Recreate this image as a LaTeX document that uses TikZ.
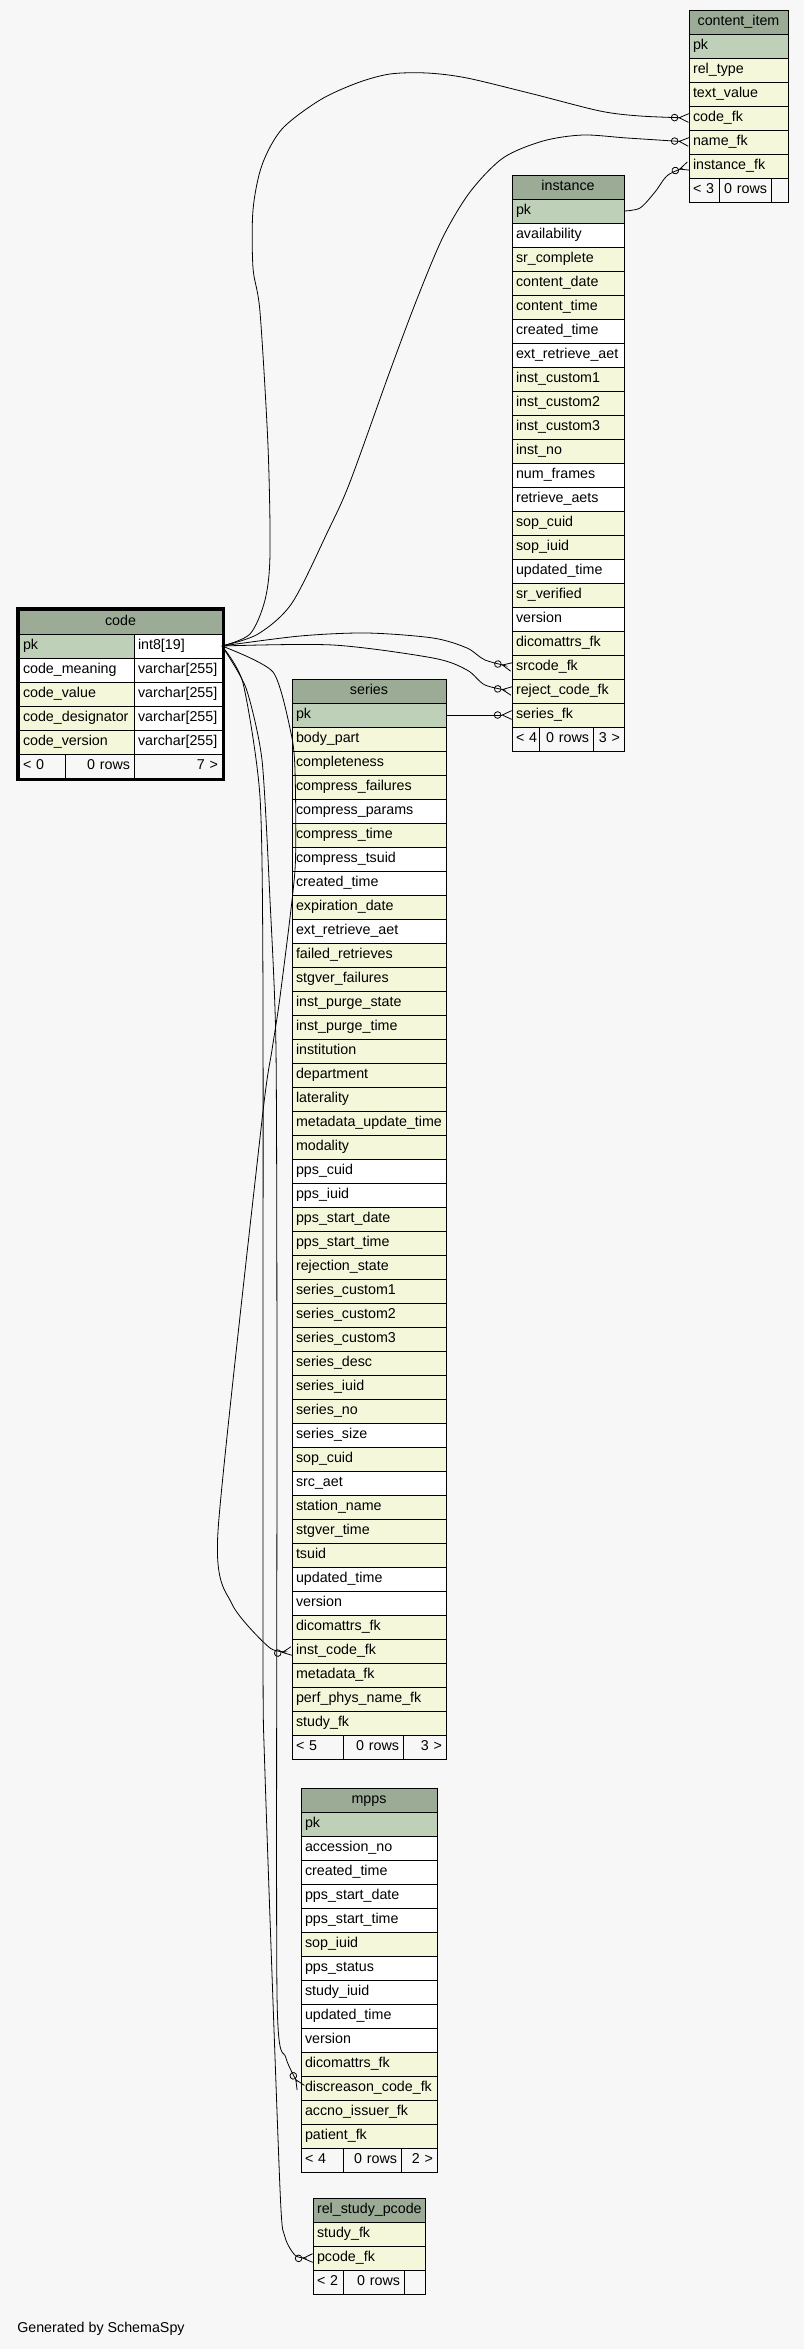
\documentclass[tikz,border=0pt]{standalone}
\usepackage{fontspec}
\setmainfont{Liberation Sans}
\usepackage{tikz}
\usetikzlibrary{arrows.meta}
\usepackage{xcolor}
\definecolor{bgcol}{HTML}{F7F7F7}
\definecolor{headcol}{HTML}{9BAB96}
\definecolor{pkc}{HTML}{BED1B8}
\definecolor{ylw}{HTML}{F4F7DA}
\definecolor{wht}{HTML}{FFFFFF}
\tikzset{
  cell/.style={draw=black, line width=0.75pt, anchor=north west, outer sep=0pt,
    inner xsep=3pt, inner ysep=0pt, minimum height=18pt, text height=7.7pt,
    text depth=2.3pt, align=left, font=\fontsize{10.7}{12}\selectfont},
  head/.style={cell, fill=headcol, align=center},
  foot/.style={cell, align=right},
  fk/.style={line width=0.6pt,
    -{Circle[open,length=5.6pt] Straight Barb[reversed,length=7pt,width=6.5pt]}},
}

\begin{document}
\catcode`\_=12
\begin{tikzpicture}[x=0.75pt, y=-0.75pt]
  \fill[bgcol] (0,0) rectangle (804,2349);

  % content_item
  \node[head, text width=68.25pt] (content_item) at (689,10) {content_item};
  \foreach \col/\clr [count=\i] in {pk/pkc, rel_type/ylw, text_value/ylw,
      code_fk/ylw, name_fk/ylw, instance_fk/ylw}
    \node[cell, text width=68.25pt, fill=\clr] (content_item-\col) at (689,10+24*\i) {\col};
  \node[cell, text width=16.5pt] (content_item-f1) at (689,178) {<~3};
  \node[foot, text width=33pt] (content_item-f2) at (719,178) {0~rows};
  \node[foot, text width=6.75pt] (content_item-f3) at (771,178) {};

  % instance
  \node[head, text width=78pt] (instance) at (512,175) {instance};
  \foreach \col/\clr [count=\i] in {pk/pkc, availability/wht, sr_complete/ylw,
      content_date/ylw, content_time/ylw, created_time/wht, ext_retrieve_aet/wht,
      inst_custom1/ylw, inst_custom2/ylw, inst_custom3/ylw, inst_no/ylw,
      num_frames/wht, retrieve_aets/wht, sop_cuid/ylw, sop_iuid/ylw,
      updated_time/wht, sr_verified/ylw, version/wht, dicomattrs_fk/ylw,
      srcode_fk/ylw, reject_code_fk/ylw, series_fk/ylw}
    \node[cell, text width=78pt, fill=\clr] (instance-\col) at (512,175+24*\i) {\col};
  \node[cell, text width=14.25pt] (instance-f1) at (512,727) {<~4};
  \node[foot, text width=34.5pt] (instance-f2) at (539,727) {0~rows};
  \node[foot, text width=17.25pt] (instance-f3) at (593,727) {3~>};

  % code
  \node[head, text width=146.25pt] (code) at (19,610) {code};
  \foreach \col/\clr/\typ [count=\i] in {pk/pkc/int8[19], code_meaning/wht/varchar[255],
      code_value/ylw/varchar[255], code_designator/ylw/varchar[255],
      code_version/ylw/varchar[255]}{
    \node[cell, text width=80.25pt, fill=\clr] (code-\col) at (19,610+24*\i) {\col};
    \node[cell, text width=60pt, fill=wht] (code-\col-type) at (134,610+24*\i) {\typ};
  }
  \node[cell, text width=28.5pt] (code-f1) at (19,754) {<~0};
  \node[foot, text width=45.75pt] (code-f2) at (65,754) {0~rows};
  \node[foot, text width=60pt] (code-f3) at (134,754) {7~>};
  \draw[line width=2.25pt] (17,608.5) rectangle (223,779.5);

  % series
  \node[head, text width=109.5pt] (series) at (292,679) {series};
  \foreach \col/\clr [count=\i] in {pk/pkc, body_part/ylw, completeness/ylw,
      compress_failures/ylw, compress_params/wht, compress_time/ylw,
      compress_tsuid/wht, created_time/wht, expiration_date/ylw,
      ext_retrieve_aet/wht, failed_retrieves/ylw, stgver_failures/ylw,
      inst_purge_state/ylw, inst_purge_time/ylw, institution/ylw, department/ylw,
      laterality/ylw, metadata_update_time/ylw, modality/ylw, pps_cuid/wht,
      pps_iuid/wht, pps_start_date/ylw, pps_start_time/ylw, rejection_state/ylw,
      series_custom1/ylw, series_custom2/ylw, series_custom3/ylw, series_desc/ylw,
      series_iuid/ylw, series_no/ylw, series_size/wht, sop_cuid/ylw, src_aet/wht,
      station_name/ylw, stgver_time/ylw, tsuid/ylw, updated_time/wht, version/wht,
      dicomattrs_fk/ylw, inst_code_fk/ylw, metadata_fk/ylw, perf_phys_name_fk/ylw,
      study_fk/ylw}
    \node[cell, text width=109.5pt, fill=\clr] (series-\col) at (292,679+24*\i) {\col};
  \node[cell, text width=32.25pt] (series-f1) at (292,1735) {<~5};
  \node[foot, text width=39pt] (series-f2) at (343,1735) {0~rows};
  \node[foot, text width=26.25pt] (series-f3) at (403,1735) {3~>};

  % mpps
  \node[head, text width=96pt] (mpps) at (301,1788) {mpps};
  \foreach \col/\clr [count=\i] in {pk/pkc, accession_no/wht, created_time/wht,
      pps_start_date/wht, pps_start_time/wht, sop_iuid/ylw, pps_status/wht,
      study_iuid/wht, updated_time/wht, version/wht, dicomattrs_fk/ylw,
      discreason_code_fk/ylw, accno_issuer_fk/ylw, patient_fk/ylw}
    \node[cell, text width=96pt, fill=\clr] (mpps-\col) at (301,1788+24*\i) {\col};
  \node[cell, text width=25.5pt] (mpps-f1) at (301,2148) {<~4};
  \node[foot, text width=37.5pt] (mpps-f2) at (343,2148) {0~rows};
  \node[foot, text width=21pt] (mpps-f3) at (401,2148) {2~>};

  % rel_study_pcode
  \node[head, text width=78pt] (rel_study_pcode) at (313,2198) {rel_study_pcode};
  \foreach \col/\clr [count=\i] in {study_fk/ylw, pcode_fk/ylw}
    \node[cell, text width=78pt, fill=\clr] (rel_study_pcode-\col) at (313,2198+24*\i) {\col};
  \node[cell, text width=16.5pt] (rel_study_pcode-f1) at (313,2270) {<~2};
  \node[foot, text width=39.75pt] (rel_study_pcode-f2) at (343,2270) {0~rows};
  \node[foot, text width=9.75pt] (rel_study_pcode-f3) at (404,2270) {};

  \node[anchor=west, inner sep=0pt, font=\fontsize{10.7}{12}\selectfont] (credit) at (17,2329) {Generated by SchemaSpy};

  % foreign keys
  \draw[fk] plot[smooth, tension=0.5] coordinates {(code-pk-type.east) (250,634) (265,600)
    (270,554) (268,446) (260,312) (253,268) (253,210) (262,165) (282,129) (320,100)
    (357,83) (390,74) (427,73) (467,78) (533,94) (600,111) (640,116) (content_item-code_fk.west)};
  \draw[fk] plot[smooth, tension=0.5] coordinates {(code-pk-type.east) (258,634) (292,603)
    (328,531) (350,482) (390,371) (417,299) (443,237) (470,192) (503,158) (543,141)
    (583,135) (627,138) (content_item-name_fk.west)};
  \draw[fk] plot[smooth, tension=0.5] coordinates {(instance-pk.east) (640,208) (655,192)
    (668,175) (content_item-instance_fk.west)};
  \draw[fk] plot[smooth, tension=0.5] coordinates {(code-pk-type.east) (300,636) (367,633)
    (433,638) (467,648) (485,660) (instance-srcode_fk.west)};
  \draw[fk] plot[smooth, tension=0.5] coordinates {(code-pk-type.east) (333,645) (433,658)
    (467,670) (485,685) (instance-reject_code_fk.west)};
  \draw[fk] (series-pk.east) -- (instance-series_fk.west);
  \draw[fk] plot[smooth, tension=0.4] coordinates {(code-pk-type.east) (273,672) (291,733)
    (295,770) (295,870) (280,997) (272,1050) (262,1120) (218,1531) (232,1604) (270,1648)
    (series-inst_code_fk.west)};
  \draw[fk] plot[smooth, tension=0.4] coordinates {(code-pk-type.east) (246,688) (262,760)
    (270,900) (276,1050) (277,1400) (277,1994) (286,2058) (mpps-discreason_code_fk.west)};
  \draw[fk] plot[smooth, tension=0.4] coordinates {(code-pk-type.east) (243,683) (260,797)
    (263,1000) (263,1650) (265,1774) (280,2189) (285,2237) (296,2256)
    (rel_study_pcode-pcode_fk.west)};
\end{tikzpicture}
\end{document}
